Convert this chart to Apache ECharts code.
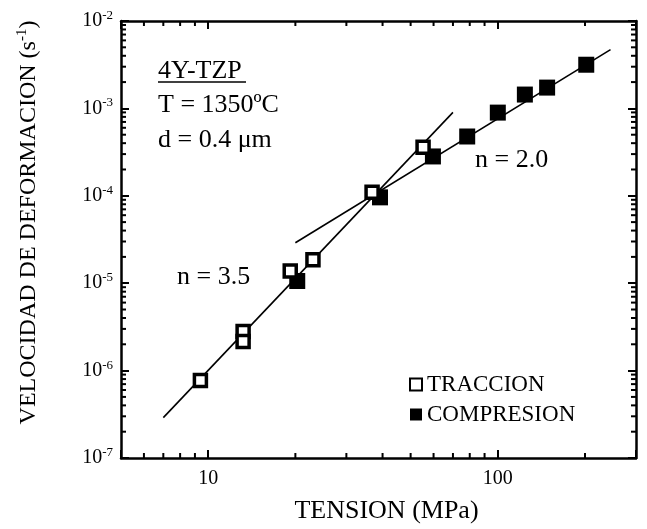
<!DOCTYPE html>
<html>
<head>
<meta charset="utf-8">
<script src="https://cdn.jsdelivr.net/npm/echarts@6/dist/echarts.min.js"></script>
<style>
html, body { margin: 0; padding: 0; background: #fff; }
#chart { width: 647px; height: 529px; }
</style>
</head>
<body>
<div id="chart"></div>
<script>
// data
var traccionX = [9.4, 13.2, 13.2, 19.2, 23.0, 36.8, 55.2];
var traccionY = [7.7e-7, 2.8e-6, 2.15e-6, 1.38e-5, 1.85e-5, 1.1e-4, 3.6e-4];
var compresionX = [20.3, 39.2, 59.7, 78.4, 100, 124, 148, 202];
var compresionY = [1.06e-5, 9.6e-5, 2.82e-4, 4.77e-4, 8.95e-4, 1.44e-3, 1.73e-3, 3.16e-3];
// fitted lines, n = 3.5 and n = 2.0
var fit35X = [7, 70];
var fit35Y = [2.9e-7, 9e-4];
var fit20X = [20, 245];
var fit20Y = [2.9e-5, 4.7e-3];
// minor tick positions
var xMinorTicks = [6, 7, 8, 9, 20, 30, 40, 50, 60, 70, 80, 90, 200];
var yDecades = [-7, -6, -5, -4, -3];
var xMin = 5, xMax = 300, yMin = 1e-7, yMax = 1e-2;

var font = '"Liberation Serif", "DejaVu Serif", serif';

function pairs(xs, ys) {
	return xs.map(function (x, i) { return [x, ys[i]]; });
}

var yMinorTicks = [];
yDecades.forEach(function (e) {
	for (var k = 2; k <= 9; k++) {
		yMinorTicks.push(k * Math.pow(10, e));
	}
});

var isDecade = function (v) {
	var l = Math.log10(v);
	return Math.abs(l - Math.round(l)) < 1e-6;
};

var chart = echarts.init(document.getElementById('chart'));

var axisLine = { lineStyle: { color: '#000', width: 2.5 } };
var majorTick = { inside: true, length: 8, lineStyle: { color: '#000', width: 2 } };

var option = {
	backgroundColor: '#fff',
	animation: false,
	grid: { left: 121, right: 11, top: 21, bottom: 69 },
	textStyle: { fontFamily: font, color: '#000' },
	legend: {
		orient: 'vertical',
		left: 404,
		top: 368,
		itemGap: 7,
		itemWidth: 12,
		itemHeight: 12,
		icon: 'rect',
		textStyle: { fontFamily: font, fontSize: 23, color: '#000' },
		data: ['TRACCION', 'COMPRESION']
	},
	xAxis: [{
		type: 'log',
		logBase: 10,
		min: xMin,
		max: xMax,
		position: 'bottom',
		name: 'TENSION (MPa)',
		nameLocation: 'middle',
		nameGap: 40,
		nameTextStyle: { fontFamily: font, fontSize: 26, color: '#000', padding: [0, 0, 0, 16] },
		axisLine: axisLine,
		axisTick: majorTick,
		splitLine: { show: false },
		axisLabel: {
			fontFamily: font, fontSize: 20, color: '#000', margin: 11,
			formatter: function (v) { return isDecade(v) ? String(Math.round(v)) : ''; }
		}
	}, {
		type: 'log',
		logBase: 10,
		min: xMin,
		max: xMax,
		position: 'top',
		axisLine: axisLine,
		axisTick: majorTick,
		splitLine: { show: false },
		axisLabel: { show: false }
	}],
	yAxis: [{
		type: 'log',
		logBase: 10,
		min: yMin,
		max: yMax,
		position: 'left',
		name: 'VELOCIDAD DE DEFORMACION (s{sup|-1})',
		nameLocation: 'middle',
		nameGap: 78,
		nameTextStyle: {
			fontFamily: font, fontSize: 24, color: '#000', lineHeight: 28,
			padding: [0, 0, 0, 34],
			rich: { sup: { fontFamily: font, fontSize: 15, lineHeight: 15, verticalAlign: 'top', color: '#000' } }
		},
		axisLine: axisLine,
		axisTick: majorTick,
		splitLine: { show: false },
		axisLabel: {
			fontFamily: font, fontSize: 20, color: '#000', margin: 8, lineHeight: 24,
			formatter: function (v) { return '10{sup|' + Math.round(Math.log10(v)) + '}'; },
			rich: { sup: { fontFamily: font, fontSize: 13, lineHeight: 13, verticalAlign: 'top', color: '#000' } }
		}
	}, {
		type: 'log',
		logBase: 10,
		min: yMin,
		max: yMax,
		position: 'right',
		axisLine: axisLine,
		axisTick: majorTick,
		splitLine: { show: false },
		axisLabel: { show: false }
	}],
	graphic: [
		{ type: 'text', left: 158, top: 58, style: { text: '4Y-TZP', fontFamily: font, fontSize: 26, fill: '#000' } },
		{ type: 'line', shape: { x1: 158, y1: 82, x2: 246, y2: 82 }, style: { stroke: '#000', lineWidth: 1.5 } },
		{ type: 'text', left: 158, top: 92, style: { text: 'T = 1350ºC', fontFamily: font, fontSize: 26, fill: '#000' } },
		{ type: 'text', left: 158, top: 127, style: { text: 'd = 0.4 μm', fontFamily: font, fontSize: 26, fill: '#000' } },
		{ type: 'text', left: 177, top: 264, style: { text: 'n = 3.5', fontFamily: font, fontSize: 26, fill: '#000' } },
		{ type: 'text', left: 475, top: 147, style: { text: 'n = 2.0', fontFamily: font, fontSize: 26, fill: '#000' } }
	],
	series: [{
		name: 'fit35',
		type: 'line',
		data: pairs(fit35X, fit35Y),
		showSymbol: false,
		lineStyle: { color: '#000', width: 1.6 },
		z: 1
	}, {
		name: 'fit20',
		type: 'line',
		data: pairs(fit20X, fit20Y),
		showSymbol: false,
		lineStyle: { color: '#000', width: 1.6 },
		z: 1
	}, {
		name: 'COMPRESION',
		type: 'scatter',
		data: pairs(compresionX, compresionY),
		symbol: 'rect',
		symbolSize: 16,
		itemStyle: { color: '#000', opacity: 1 },
		z: 3
	}, {
		name: 'TRACCION',
		type: 'scatter',
		data: pairs(traccionX, traccionY),
		symbol: 'rect',
		symbolSize: 12,
		itemStyle: { color: '#fff', borderColor: '#000', borderWidth: 3.5, opacity: 1 },
		z: 4
	}, {
		// minor ticks on bottom and top
		type: 'custom',
		silent: true,
		data: xMinorTicks.map(function (v) { return [v, yMin]; }),
		renderItem: function (params, api) {
			var b = api.coord([api.value(0), yMin]);
			var t = api.coord([api.value(0), yMax]);
			var ls = { stroke: '#000', lineWidth: 2 };
			return { type: 'group', children: [
				{ type: 'line', shape: { x1: b[0], y1: b[1], x2: b[0], y2: b[1] - 5 }, style: ls },
				{ type: 'line', shape: { x1: t[0], y1: t[1], x2: t[0], y2: t[1] + 5 }, style: ls }
			] };
		},
		z: 5
	}, {
		// minor ticks on left and right
		type: 'custom',
		silent: true,
		data: yMinorTicks.map(function (v) { return [xMin, v]; }),
		renderItem: function (params, api) {
			var l = api.coord([xMin, api.value(1)]);
			var r = api.coord([xMax, api.value(1)]);
			var ls = { stroke: '#000', lineWidth: 2 };
			return { type: 'group', children: [
				{ type: 'line', shape: { x1: l[0], y1: l[1], x2: l[0] + 5, y2: l[1] }, style: ls },
				{ type: 'line', shape: { x1: r[0], y1: r[1], x2: r[0] - 5, y2: r[1] }, style: ls }
			] };
		},
		z: 5
	}]
};

chart.setOption(option);
</script>
</body>
</html>
